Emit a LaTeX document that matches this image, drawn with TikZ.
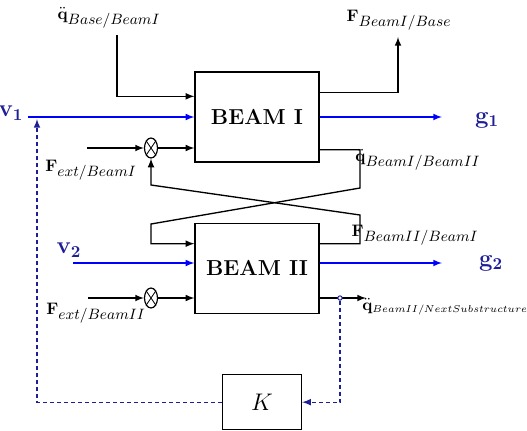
\documentclass[tikz,border=0pt]{standalone}
\usepackage{tikz}
\usetikzlibrary{shapes,arrows,positioning,calc}

\definecolor{sigblue}{RGB}{30,30,150}
\newcommand{\subtxt}[1]{\mbox{\small$#1$}}
\newcommand{\subsmall}[1]{\mbox{\fontsize{5.6}{7}\selectfont$#1$}}

\begin{document}
\begin{tikzpicture}[
    x=0.6pt, y=-0.6pt,
    block/.style={rectangle, draw, line width=0.8pt, minimum width=74.4pt, minimum height=54pt, font=\fontsize{13}{15}\selectfont\bfseries},
    mult/.style={ellipse, draw, line width=0.7pt, minimum width=7.8pt, minimum height=12pt, inner sep=0pt},
    lbl/.style={font=\normalsize, inner sep=1pt},
    sig/.style={font=\Large, text=sigblue, inner sep=1pt},
    arrow/.style={line width=0.8pt, ->, >=latex},
    blueline/.style={arrow, blue},
    fb/.style={line width=0.8pt, sigblue, dash pattern=on 2.4pt off 1.8pt, ->, >=latex}
]
\useasboundingbox (0,0) rectangle (527,430);

% Blocks
\node[block] (beamI) at (257,117) {BEAM I};
\node[block, below=36pt of beamI] (beamII) {BEAM II};
\node[block, below=36pt of beamII, xshift=3pt, minimum width=47.4pt, minimum height=33pt, font=\Large] (K) {$K$};

% Summing junctions
\node[mult] (m1) at (151,148) {};
\node[mult] (m2) at (151,298) {};
\draw[line width=0.5pt] (m1.north west) -- (m1.south east) (m1.north east) -- (m1.south west);
\draw[line width=0.5pt] (m2.north west) -- (m2.south east) (m2.north east) -- (m2.south west);

% Labels
\node[lbl] (qbase) at (109,18) {$\ddot{\mathbf{q}}_{\subtxt{Base/BeamI}}$};
\node[lbl] (fbase) at (399,20) {$\mathbf{F}_{\subtxt{BeamI/Base}}$};
\node[sig] (v1) at (11,113) {$\mathbf{v}_{\mathbf{1}}$};
\node[sig] (g1) at (487,120) {$\mathbf{g}_{\mathbf{1}}$};
\node[lbl] (fext1) at (91,170) {$\mathbf{F}_{\subtxt{ext/BeamI}}$};
\node[lbl] (q12) at (418,160) {$\ddot{\mathbf{q}}_{\subtxt{BeamI/BeamII}}$};
\node[sig] (v2) at (69,250) {$\mathbf{v}_{\mathbf{2}}$};
\node[sig] (g2) at (491,263) {$\mathbf{g}_{\mathbf{2}}$};
\node[lbl] (f21) at (415,235) {$\mathbf{F}_{\subtxt{BeamII/BeamI}}$};
\node[lbl] (fext2) at (96,313) {$\mathbf{F}_{\subtxt{ext/BeamII}}$};
\node[lbl, anchor=west, inner sep=0pt] (qnext) at (362,307) {$\ddot{\mathbf{q}}_{\subsmall{BeamII/NextSubstructure}}$};

% Free ends and corners
\coordinate (qbtop) at (117,35);
\coordinate (fbtop) at (398,37);
\coordinate (v1in) at (28,117);
\coordinate (g1out) at (442,117);
\coordinate (f1in) at (87,148);
\coordinate (v2in) at (73,263);
\coordinate (g2out) at (442,263);
\coordinate (f2in) at (88,298);
\coordinate (qnout) at (366,298);
\coordinate (v1tap) at (37,119);
\coordinate (xa) at (360,188);
\coordinate (xb) at (151,224);
\coordinate (xc) at (360,215);
\coordinate (xd) at (151,185);

% Beam I inputs
\draw[arrow] (qbtop) |- ([yshift=-15pt]beamI.north west);
\draw[blueline] (v1in) -- (beamI.west);
\draw[arrow] (f1in) -- (m1);
\draw[arrow] (m1) -- (m1 -| beamI.west);

% Beam I outputs
\draw[arrow] ([yshift=-12.6pt]beamI.north east) -| (fbtop);
\draw[blueline] (beamI.east) -- (g1out);

% Coupling between the beams
\draw[arrow] ([yshift=7.8pt]beamI.south east) -| (xa) -- (xb) |- ([yshift=-12.6pt]beamII.north west);
\draw[arrow] ([yshift=-12.6pt]beamII.north east) -| (xc) -- (xd) -- (m1.south);

% Beam II inputs
\draw[blueline] (v2in) -- (v2in -| beamII.west);
\draw[arrow] (f2in) -- (m2);
\draw[arrow] (m2) -- (m2 -| beamII.west);

% Beam II outputs
\draw[blueline] (v2in -| beamII.east) -- (g2out);
\draw[arrow] (m2 -| beamII.east) -- (qnout);

% Feedback through K
\node[circle, draw=sigblue, fill=white, line width=0.6pt, inner sep=0pt, minimum size=2.6pt] (tap) at (340,298) {};
\draw[fb] (tap) |- (K.east);
\draw[fb] (K.west) -| (v1tap);

\end{tikzpicture}
\end{document}
